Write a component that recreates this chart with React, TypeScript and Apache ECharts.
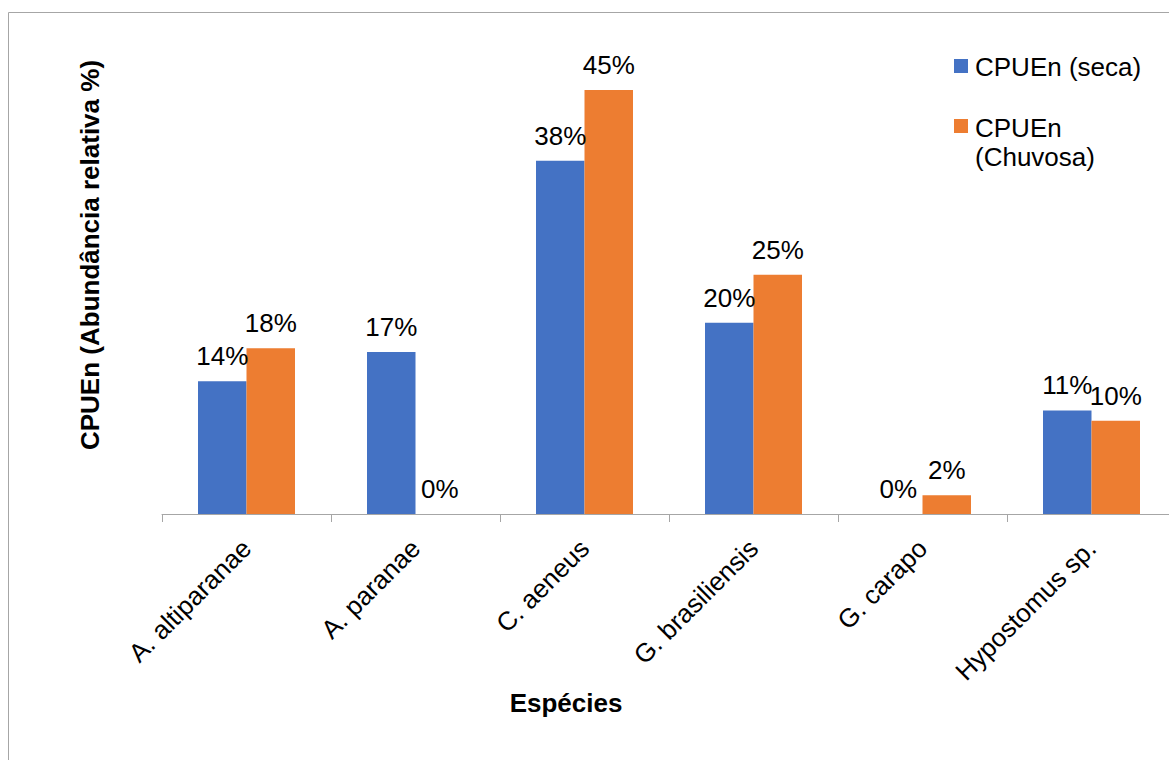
import React, { useEffect, useRef } from "react";
import * as echarts from "echarts";

// Species sampled and relative abundance (CPUEn, %) per season
const species = [
  "A. altiparanae",
  "A. paranae",
  "C. aeneus",
  "G. brasiliensis",
  "G. carapo",
  "Hypostomus sp.",
];
const secaValues = [14.1, 17.2, 37.5, 20.3, 0, 11.0];
const chuvosaValues = [17.6, 0, 45.0, 25.4, 2.0, 9.9];
const seriesNames = ["CPUEn (seca)", "CPUEn (Chuvosa)"];
const seriesColors = ["#4472C4", "#ED7D31"];

const FONT = "'Liberation Sans', Arial, sans-serif";
const FS = 26;

export default function App() {
  const ref = useRef<HTMLDivElement>(null);

  useEffect(() => {
    if (!ref.current) return;
    const chart = echarts.init(ref.current, undefined, { renderer: "svg" });

    const labelCfg = {
      show: true,
      position: "top",
      distance: 12,
      fontSize: FS,
      fontFamily: FONT,
      color: "#000",
      formatter: (p: any) => `${Math.round(p.value)}%`,
    };

    chart.setOption({
      animation: false,
      backgroundColor: "#fff",
      grid: {
        left: 162,
        width: 1014,
        top: 43,
        bottom: 246,
        containLabel: false,
        outerBoundsMode: "none",
      },
      xAxis: {
        type: "category",
        data: species,
        axisLine: { show: true, lineStyle: { color: "#a6a6a6", width: 1 } },
        axisTick: {
          show: true,
          length: 8,
          alignWithLabel: false,
          lineStyle: { color: "#a6a6a6" },
        },
        axisLabel: {
          rotate: 45,
          margin: 30,
          fontSize: FS,
          fontFamily: FONT,
          color: "#000",
          interval: 0,
        },
      },
      yAxis: {
        type: "value",
        min: 0,
        max: 50,
        axisLine: { show: false },
        axisTick: { show: false },
        axisLabel: { show: false },
        splitLine: { show: false },
      },
      series: [
        {
          name: seriesNames[0],
          type: "bar",
          data: secaValues,
          barWidth: 48.5,
          barGap: "0%",
          itemStyle: { color: seriesColors[0] },
          label: labelCfg,
        },
        {
          name: seriesNames[1],
          type: "bar",
          data: chuvosaValues,
          barWidth: 48.5,
          barGap: "0%",
          itemStyle: { color: seriesColors[1] },
          label: labelCfg,
        },
      ],
      graphic: [
        {
          type: "rect",
          silent: true,
          shape: { x: 8.5, y: 12.5, width: 1400, height: 1000 },
          style: { fill: "none", stroke: "#a6a6a6", lineWidth: 1 },
        },
        {
          type: "text",
          x: 90,
          y: 255,
          rotation: Math.PI / 2,
          style: {
            text: "CPUEn (Abundância relativa %)",
            fontSize: FS,
            fontWeight: "bold",
            fontFamily: FONT,
            fill: "#000",
            align: "center",
            verticalAlign: "middle",
          },
        },
        {
          type: "text",
          x: 566,
          y: 703,
          style: {
            text: "Espécies",
            fontSize: FS,
            fontWeight: "bold",
            fontFamily: FONT,
            fill: "#000",
            align: "center",
            verticalAlign: "middle",
          },
        },
        {
          type: "rect",
          shape: { x: 954, y: 59, width: 14, height: 14 },
          style: { fill: seriesColors[0] },
        },
        {
          type: "text",
          x: 975,
          y: 67,
          style: {
            text: seriesNames[0],
            fontSize: FS,
            fontFamily: FONT,
            fill: "#000",
            verticalAlign: "middle",
          },
        },
        {
          type: "rect",
          shape: { x: 954, y: 119, width: 14, height: 14 },
          style: { fill: seriesColors[1] },
        },
        {
          type: "text",
          x: 975,
          y: 113,
          style: {
            text: seriesNames[1].replace(" ", "\n"),
            fontSize: FS,
            lineHeight: 29,
            fontFamily: FONT,
            fill: "#000",
            verticalAlign: "top",
          },
        },
      ],
    });

    return () => chart.dispose();
  }, []);

  return (
    <div
      ref={ref}
      style={{ position: "fixed", left: 0, top: 0, width: 1169, height: 760 }}
    />
  );
}
